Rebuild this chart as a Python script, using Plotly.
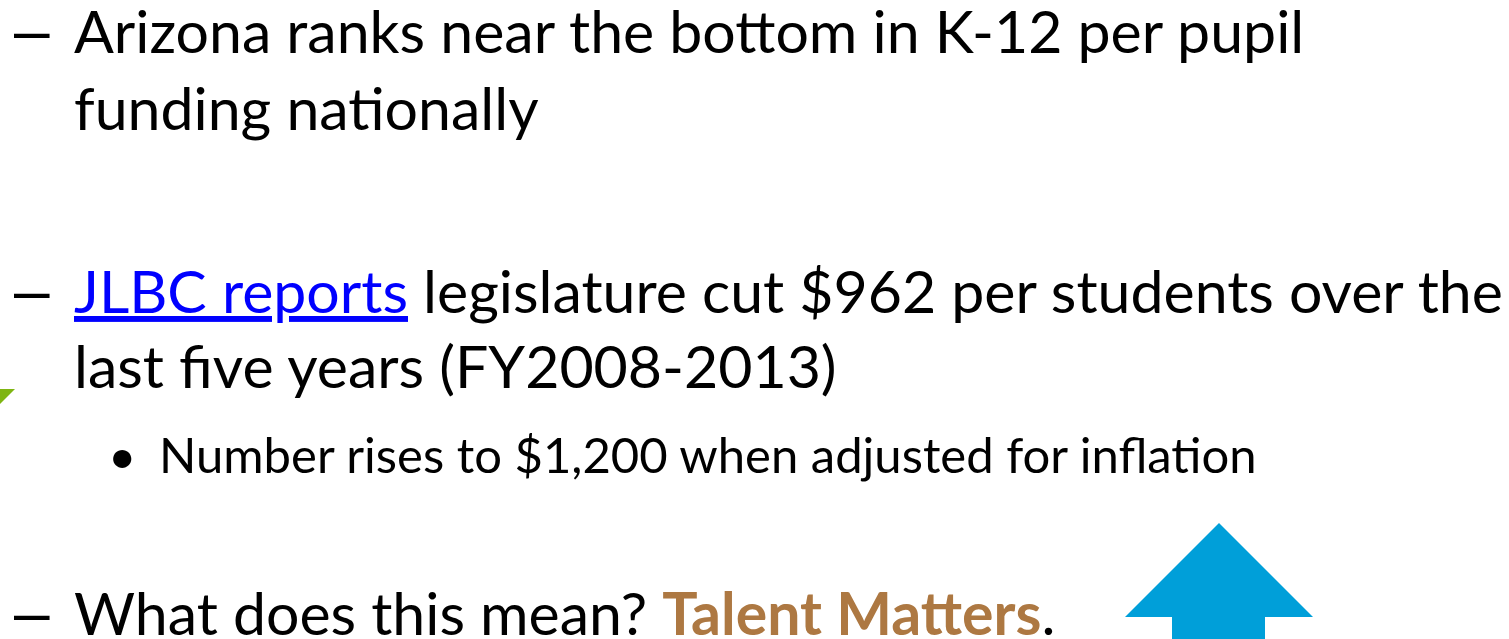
import plotly.graph_objects as go

W, H = 1509, 639
FONT = "Lato"

# main lines: text, x of text start, baseline y
main_text = [
    "Arizona ranks near the bottom in K-12 per pupil",
    "funding nationally",
    "<span style='color:#0000FF'><u>JLBC reports</u></span> legislature cut $962 per students over the",
    "last five years (FY2008-2013)",
    "What does this mean? <b><span style='color:#AD7842'>Talent Matters</span></b>.",
]
main_x = [72, 72, 72, 72, 72]
main_base = [53, 130, 313, 388, 635]
dash_rows = [0, 2, 4]

sub_text = ["Number rises to $1,200 when adjusted for inflation"]
sub_x = [157]
sub_base = [473]

main_size = 59
sub_size = 49

# decorations (pixel coords)
tri_x = [-10, 15, -10]
tri_y = [389, 389, 414]
arrow_x = [1219, 1313, 1265, 1265, 1172, 1172, 1125]
arrow_y = [523, 617, 617, 660, 660, 617, 617]

fig = go.Figure()

def mid(base, size):
    return base - 0.387 * size

for i, t in enumerate(main_text):
    fig.add_annotation(x=main_x[i], y=mid(main_base[i], main_size), text=t,
                       xanchor="left", yanchor="middle", showarrow=False,
                       font=dict(family=FONT, size=main_size, color="black"))
for i in dash_rows:
    fig.add_annotation(x=12, y=mid(main_base[i], main_size), text="–",
                       xanchor="left", yanchor="middle", showarrow=False,
                       font=dict(family="Liberation Sans", size=64, color="black"))
for i, t in enumerate(sub_text):
    fig.add_annotation(x=sub_x[i], y=mid(sub_base[i], sub_size), text=t,
                       xanchor="left", yanchor="middle", showarrow=False,
                       font=dict(family=FONT, size=sub_size, color="black"))
    fig.add_annotation(x=106, y=mid(sub_base[i], sub_size), text="•",
                       xanchor="left", yanchor="middle", showarrow=False,
                       font=dict(family=FONT, size=sub_size, color="black"))

def path(xs, ys):
    return "M " + " L ".join(f"{a},{b}" for a, b in zip(xs, ys)) + " Z"

fig.add_shape(type="path", path=path(tri_x, tri_y), fillcolor="#7FB512",
              line=dict(width=0), layer="below")
fig.add_shape(type="path", path=path(arrow_x, arrow_y), fillcolor="#009FD9",
              line=dict(width=0), layer="below")

fig.update_xaxes(range=[0, W], visible=False)
fig.update_yaxes(range=[H, 0], visible=False)
fig.update_layout(width=W, height=H, margin=dict(l=0, r=0, t=0, b=0),
                  paper_bgcolor="white", plot_bgcolor="white", showlegend=False)

# drop the default 8px body margin so the figure sits at the page corner
fig.write_html("out.html", config={"displayModeBar": False},
               post_script="document.body.style.margin='0';")
